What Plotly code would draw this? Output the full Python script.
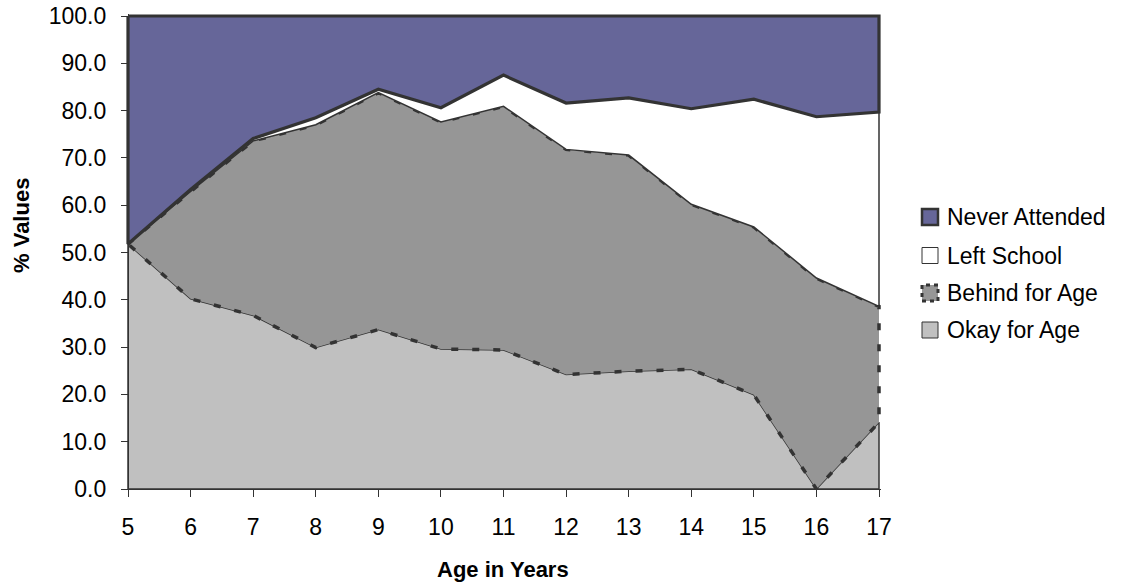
import numpy as np
import plotly.graph_objects as go

# School attendance status by age (% of children, stacked to 100)
ages = list(range(5, 18))
okay_for_age = [51.8, 40.2, 36.7, 29.9, 33.7, 29.6, 29.4, 24.2, 24.9, 25.3, 19.9, 0.0, 14.1]
behind_for_age = [0.0, 22.7, 36.9, 47.1, 50.1, 48.0, 51.5, 47.6, 45.7, 34.9, 35.5, 44.6, 24.5]
left_school = [0.0, 0.4, 0.5, 1.5, 0.7, 3.0, 6.6, 9.8, 12.1, 20.2, 27.0, 34.1, 41.1]
never_attended = [48.2, 36.7, 25.9, 21.5, 15.5, 19.4, 12.5, 18.4, 17.3, 19.6, 17.6, 21.3, 20.3]

y_tick_values = [0, 10, 20, 30, 40, 50, 60, 70, 80, 90, 100]
y_tick_labels = [f"{v:.1f}" for v in y_tick_values]

series_names = ["Okay for Age", "Behind for Age", "Left School", "Never Attended"]
series_values = [okay_for_age, behind_for_age, left_school, never_attended]
fill_colors = ["#C0C0C0", "#969696", "#FFFFFF", "#666699"]
line_styles = [
    dict(color="#333333", width=1.5),
    dict(color="#333333", width=3.5, dash="7px,14px"),
    dict(color="#333333", width=1.5),
    dict(color="#333333", width=3.2),
]

FONT = "Arial, Liberation Sans, sans-serif"
TEXT = "#000000"

# page geometry (pixels)
W, H = 1122, 586
PLOT_L, PLOT_R, PLOT_T, PLOT_B = 128, 879, 16, 489
PAD = 2


def px(x):
    return x / W


def py(y):
    return 1 - y / H


x_lo, x_hi = ages[0], ages[-1]
x_scale = (x_hi - x_lo) / (PLOT_R - PLOT_L)
y_lo, y_hi = y_tick_values[0], y_tick_values[-1]
y_scale = (y_hi - y_lo) / (PLOT_B - PLOT_T)

fig = go.Figure()

# each band is a closed polygon between its cumulative bottom and top
bottom = np.zeros(len(ages))
ages_arr = np.array(ages, dtype=float)
for name, vals, fc, ls in zip(series_names, series_values, fill_colors, line_styles):
    top = bottom + np.array(vals, dtype=float)
    xs = np.concatenate([ages_arr, ages_arr[::-1], ages_arr[:1]])
    ys = np.concatenate([top, bottom[::-1], top[:1]])
    fig.add_trace(go.Scatter(
        x=xs, y=ys, mode="lines", fill="toself", fillcolor=fc,
        line=dict(**ls), name=name, showlegend=False, hoverinfo="skip",
    ))
    bottom = top

axis_common = dict(
    showgrid=False, zeroline=False, showline=True, linecolor="#333333",
    linewidth=1.3, ticks="outside", ticklen=7, tickwidth=1.2, tickcolor="#333333",
    tickfont=dict(family=FONT, size=23, color=TEXT), automargin=False,
)

fig.update_xaxes(
    **axis_common,
    domain=[px(PLOT_L - PAD), px(PLOT_R + PAD)],
    range=[x_lo - PAD * x_scale, x_hi + PAD * x_scale],
    tickvals=ages, ticktext=[str(a) for a in ages],
    anchor="y", ticklabelstandoff=10,
)
fig.update_yaxes(
    **axis_common,
    domain=[py(PLOT_B), py(PLOT_T - PAD)],
    range=[y_lo, y_hi + PAD * y_scale],
    tickvals=y_tick_values, ticktext=y_tick_labels,
    anchor="free", position=px(PLOT_L), ticklabelstandoff=10,
)

annotations = [
    dict(text="<b>% Values</b>", x=px(22), y=py(226), textangle=-90,
         xanchor="center", yanchor="middle",
         font=dict(family=FONT, size=22, color=TEXT)),
    dict(text="<b>Age in Years</b>", x=px(503), y=py(569),
         xanchor="center", yanchor="middle",
         font=dict(family=FONT, size=22, color=TEXT)),
]

# legend, top to bottom
legend_rows = [
    ("Never Attended", "#666699", dict(color="#333333", width=2.5)),
    ("Left School", "#FFFFFF", dict(color="#333333", width=1)),
    ("Behind for Age", "#969696", dict(color="#333333", width=3, dash="4px,4px")),
    ("Okay for Age", "#C0C0C0", dict(color="#333333", width=1)),
]
row_y = [217, 255.5, 293, 330]
shapes = []
for (label, fc, ln), yc in zip(legend_rows, row_y):
    shapes.append(dict(type="rect", xref="paper", yref="paper",
                       x0=px(922), x1=px(938), y0=py(yc + 8), y1=py(yc - 8),
                       fillcolor=fc, line=ln, layer="above"))
    annotations.append(dict(text=label, x=px(945), y=py(yc), xanchor="left",
                            yanchor="middle",
                            font=dict(family=FONT, size=23, color=TEXT)))

for a in annotations:
    a.setdefault("xref", "paper")
    a.setdefault("yref", "paper")
    a.setdefault("showarrow", False)

fig.update_layout(
    width=W, height=H, margin=dict(l=0, r=0, t=0, b=0),
    paper_bgcolor="white", plot_bgcolor="rgba(0,0,0,0)",
    showlegend=False, annotations=annotations, shapes=shapes,
)

fig.write_html("out.html")
